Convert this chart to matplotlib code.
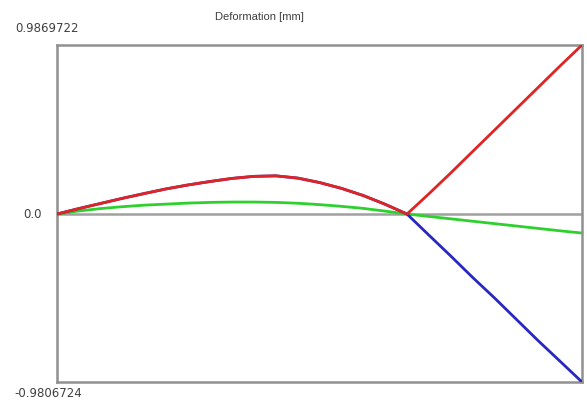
import numpy as np
import matplotlib.pyplot as plt

# positions along the beam (supports at 0 and 2, overhang to 3)
x = [0.0, 0.125, 0.25, 0.375, 0.5, 0.625, 0.75, 0.875, 1.0,
     1.125, 1.25, 1.375, 1.5, 1.625, 1.75, 1.875, 2.0,
     2.125, 2.25, 2.375, 2.5, 2.625, 2.75, 2.875, 3.0]

# deformation per load case [mm]
span = [0.0, 0.032, 0.062, 0.092, 0.120, 0.147, 0.170, 0.190, 0.208,
        0.220, 0.223, 0.210, 0.184, 0.150, 0.108, 0.057, 0.0]
red = span + [0.118, 0.24, 0.365, 0.49, 0.615, 0.74, 0.865, 0.9869722]
blue = span + [-0.123, -0.245, -0.37, -0.49, -0.615, -0.74, -0.86, -0.9806724]
green = [0.0, 0.018, 0.032, 0.043, 0.052, 0.058, 0.064, 0.068, 0.070,
         0.070, 0.068, 0.063, 0.055, 0.045, 0.033, 0.017, 0.0,
         -0.014, -0.028, -0.042, -0.056, -0.070, -0.084, -0.098, -0.111]

ymax = max(red)
ymin = min(blue)
title = 'Deformation [mm]'

fig = plt.figure(figsize=(5.87, 4.12), dpi=100)
ax = fig.add_axes([0.0971, 0.0728, 0.8944, 0.818])

ax.axhline(0, color='#a0a0a0', lw=1.8, zorder=1)
ax.plot(x, green, color='#2ed02e', lw=2, zorder=2)
ax.plot(x, blue, color='#2828c0', lw=2, zorder=3)
ax.plot(x, red, color='#e02424', lw=2, zorder=4)

ax.set_xlim(x[0], x[-1])
ax.set_ylim(ymin, ymax)
ax.set_xticks([])
ax.set_yticks([])
for s in ax.spines.values():
    s.set_color('#909090')
    s.set_linewidth(1.8)

# value labels on the left, top/bottom ones sit outside the frame
lab = dict(fontsize=8.5, color='#404040', xycoords=('axes fraction', 'data'),
           textcoords='offset points', va='center')
ax.annotate(f'{ymax:.7f}', xy=(0, ymax), xytext=(-30, 12), ha='left', **lab)
ax.annotate('0.0', xy=(0, 0), xytext=(-11, 0), ha='right', **lab)
ax.annotate(f'{ymin:.7f}', xy=(0, ymin), xytext=(-31, -8), ha='left', **lab)

fig.text(0.366, 0.958, title, fontsize=8, family='Liberation Sans',
         color='#404040', ha='left', va='center')

plt.savefig('out.png', dpi=100)
